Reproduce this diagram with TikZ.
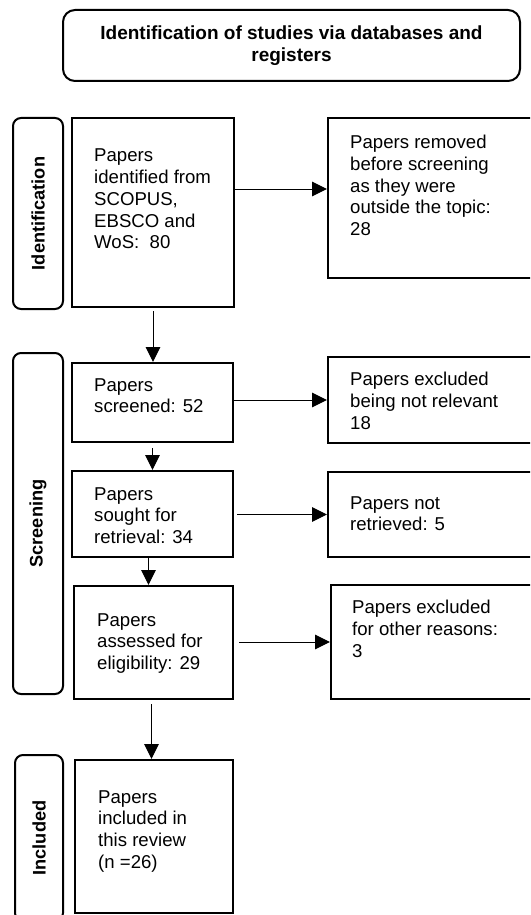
\documentclass[tikz,border=0pt]{standalone}
\usepackage{fontspec}
\setmainfont{Liberation Sans}
\usetikzlibrary{arrows.meta,fit}
\tikzset{
  box/.style={draw, line width=2pt, inner sep=0pt, fit={#1}},
  sidebox/.style={draw, line width=2pt, rounded corners=8pt, inner sep=0pt, fit={#1}},
  titlebox/.style={draw, line width=2pt, rounded corners=12pt, inner sep=0pt, fit={#1}},
  txt/.style={anchor=north west, inner sep=0pt, align=left, font=\fontsize{18.6}{21.7}\selectfont},
  sidetxt/.style={rotate=90, inner sep=0pt, font=\fontsize{18.2}{21}\selectfont\bfseries},
  arr/.style={-{Triangle[length=15pt,width=14.5pt]}, line width=1pt},
}
\begin{document}
\begin{tikzpicture}[x=1pt,y=-1pt]
\useasboundingbox (0,0) rectangle (530,915);
\clip (0,0) rectangle (530,915);
% title
\node[titlebox={(63,10) (520,81)}] (title) {};
\node[inner sep=0pt, align=center, font=\fontsize{19}{21.3}\selectfont\bfseries] (titletxt) at (291.5,45.5) {Identification of studies via databases and\\registers};
% side labels
\node[sidebox={(13,118) (63,309)}] (sid) {};
\node[sidetxt] (sidt) at (sid.center) {Identification};
\node[sidebox={(13,353) (63,694)}] (sscr) {};
\node[sidetxt] (sscrt) at (sscr.center) {Screening};
\node[sidebox={(15,755) (63,921)}] (sinc) {};
\node[sidetxt] (sinct) at (sinc.center) {Included};
% left boxes
\node[box={(72,118) (234,307)}] (b1) {};
\node[txt] (t1) at (94,149) {Papers\\identified from\\SCOPUS,\\EBSCO and\\WoS:\ \ 80};
\node[box={(72,363) (233,442)}] (b2) {};
\node[txt] (t2) at (94,378) {Papers\\screened: 52};
\node[box={(72,471) (233,557)}] (b3) {};
\node[txt] (t3) at (94,487) {Papers\\sought for\\retrieval: 34};
\node[box={(74,586) (233,699)}] (b4) {};
\node[txt] (t4) at (97,613) {Papers\\assessed for\\eligibility: 29};
\node[box={(75,760) (233,913)}] (b5) {};
\node[txt] (t5) at (98,790) {Papers\\included in\\this review\\(n =26)};
% right boxes
\node[box={(328,118) (540,278)}] (r1) {};
\node[txt] (u1) at (350,135) {Papers removed\\before screening\\as they were\\outside the topic:\\28};
\node[box={(328,357) (540,443)}] (r2) {};
\node[txt] (u2) at (350,372) {Papers excluded\\being not relevant\\18};
\node[box={(328,472) (540,557)}] (r3) {};
\node[txt] (u3) at (350,496) {Papers not\\retrieved: 5};
\node[box={(331,585) (540,699)}] (r4) {};
\node[txt] (u4) at (352,600) {Papers excluded\\for other reasons:\\3};
% horizontal arrows
\draw[arr] ([yshift=23.5pt]b1.east) -- ([yshift=23.5pt]b1.east -| r1.west);
\draw[arr] (b2.east |- r2.west) -- (r2.west);
\draw[arr] ([xshift=3pt]b3.east |- r3.west) -- (r3.west);
\draw[arr] ([xshift=5pt]b4.east |- r4.west) -- (r4.west);
% vertical arrows
\draw[arr] ([yshift=-3pt]b1.south) -- (b1.south |- b2.north);
\draw[arr] ([yshift=-5pt]b2.south) -- (b2.south |- b3.north);
\draw[arr] ([xshift=-4pt]b3.south) -- ([xshift=-4pt]b3.south |- b4.north);
\draw[arr] ([xshift=-2pt,yshift=-4pt]b4.south) -- ([xshift=-2pt]b4.south |- b5.north);
\end{tikzpicture}
\end{document}
